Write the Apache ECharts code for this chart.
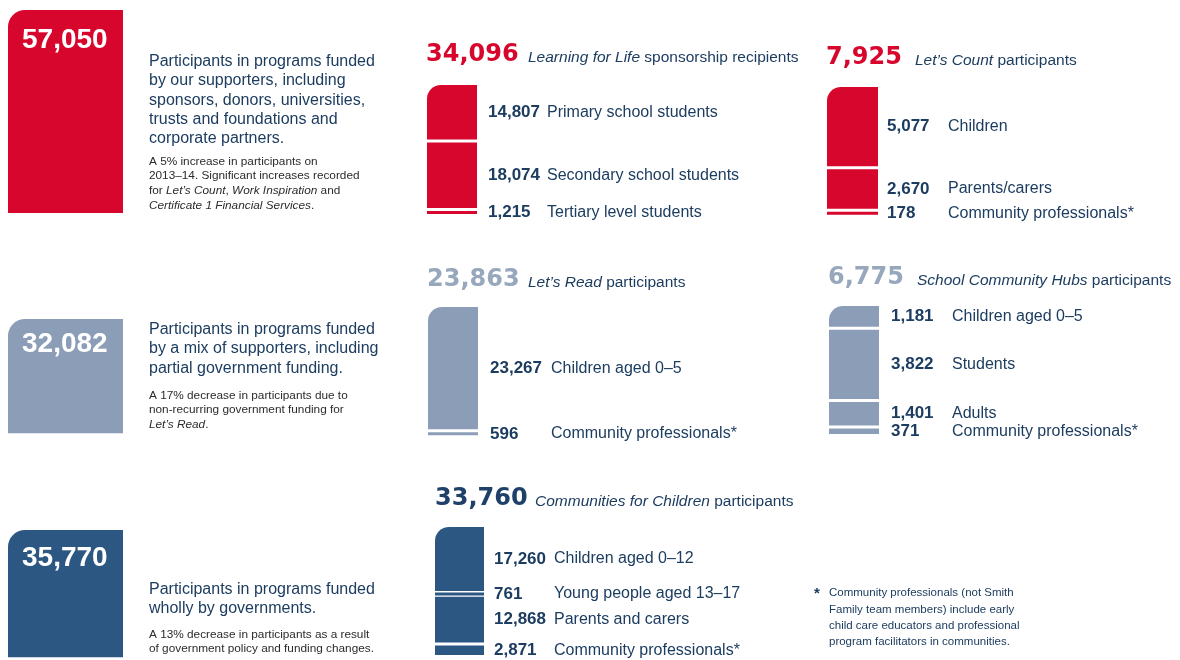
<!DOCTYPE html>
<html><head><meta charset="utf-8">
<script src="https://cdn.jsdelivr.net/npm/echarts@6/dist/echarts.min.js"></script>
<style>html,body{margin:0;padding:0;background:#fff}#c{width:1180px;height:660px}</style>
</head><body><div id="c"></div>
<script>
// ---------- data ----------
const fundingTotals = [57050, 32082, 35770];
const programTotals = [34096, 7925, 23863, 6775, 33760];
const lflCategories = ['Primary school students', 'Secondary school students', 'Tertiary level students'];
const lflValues = [14807, 18074, 1215];
const lcCategories = ['Children', 'Parents/carers', 'Community professionals*'];
const lcValues = [5077, 2670, 178];
const lrCategories = ['Children aged 0–5', 'Community professionals*'];
const lrValues = [23267, 596];
const schCategories = ['Children aged 0–5', 'Students', 'Adults', 'Community professionals*'];
const schValues = [1181, 3822, 1401, 371];
const cfcCategories = ['Children aged 0–12', 'Young people aged 13–17', 'Parents and carers', 'Community professionals*'];
const cfcValues = [17260, 761, 12868, 2871];

// ---------- styles / layout ----------
const RED = '#D7062C', GREY = '#8C9EB7', BLUE = '#2D5783', NAVY = '#1D3D60';
const FONT = 'Liberation Sans';
const fmt = v => v.toLocaleString('en-US');
const FUND_PER_PX = 281;   // shared scale of the three funding boxes (participants per pixel)
const GAP = 3, MINH = 3;    // white gap between stacked segments, min visible thickness

const grids = [], xAxes = [], yAxes = [], series = [];
function addGrid(g, max) {
  const i = grids.length;
  grids.push({ left: g.left, top: g.top, width: g.width, height: g.height });
  xAxes.push({ type: 'category', gridIndex: i, data: ['a'], show: false });
  yAxes.push({ type: 'value', gridIndex: i, inverse: true, min: 0, max: max, show: false });
  return i;
}

// funding boxes
const fundLayout = [
  { top: 10, height: 215, color: RED, labelY: 30 },
  { top: 319, height: 130, color: GREY, labelY: 25 },
  { top: 530, height: 129, color: BLUE, labelY: 28 }
];
fundingTotals.forEach((v, k) => {
  const L = fundLayout[k];
  const i = addGrid({ left: 8, top: L.top, width: 115, height: L.height }, L.height * FUND_PER_PX);
  series.push({
    type: 'bar', xAxisIndex: i, yAxisIndex: i, barWidth: '100%', silent: true,
    data: [v],
    itemStyle: { color: L.color, borderRadius: [17, 0, 0, 0] },
    label: {
      show: true, position: [14, L.labelY], align: 'left', verticalAlign: 'middle',
      formatter: fmt(v), color: '#fff', fontSize: 28, fontWeight: 'bold', fontFamily: FONT
    }
  });
});

// stacked program bars (custom series, positions through the axes)
const stacks = [
  { cats: lflCategories, vals: lflValues, color: RED, left: 427, top: 85, width: 50, height: 129, dist: 11, numW: 59 },
  { cats: lcCategories, vals: lcValues, color: RED, left: 827, top: 87, width: 51, height: 126, dist: 9, numW: 61 },
  { cats: lrCategories, vals: lrValues, color: GREY, left: 428, top: 307, width: 50, height: 127, dist: 12, numW: 61 },
  { cats: schCategories, vals: schValues, color: GREY, left: 829, top: 306, width: 50, height: 128, dist: 12, numW: 61 },
  { cats: cfcCategories, vals: cfcValues, color: BLUE, left: 435, top: 527, width: 49, height: 128, dist: 10, numW: 60 }
];
stacks.forEach(s => {
  const total = s.vals.reduce((a, b) => a + b, 0);
  const i = addGrid(s, total);
  const n = s.vals.length;
  let acc = 0;
  const data = s.vals.map((v, j) => { const d = [0, acc, acc + v, j]; acc += v; return d; });
  series.push({
    type: 'custom', xAxisIndex: i, yAxisIndex: i, silent: true, clip: false,
    data: data, encode: { x: 0, y: [1, 2] },
    renderItem: (params, api) => {
      const j = api.value(3);
      const a = api.coord([0, api.value(1)]);
      const b = api.coord([0, api.value(2)]);
      const w = api.size([1, 0])[0];
      let y0 = a[1] + (j > 0 ? GAP / 2 : 0);
      let y1 = b[1] - (j < n - 1 ? GAP / 2 : 0);
      if (y1 - y0 < MINH) {
        if (j === n - 1) { y1 = y0 + MINH; }
        else { const m = (a[1] + b[1]) / 2; y0 = m - MINH / 2; y1 = m + MINH / 2; }
      }
      return {
        type: 'rect',
        shape: { x: a[0] - w / 2, y: y0, width: w, height: y1 - y0, r: j === 0 ? [14, 0, 0, 0] : 0 },
        style: { fill: s.color },
        textContent: {
          style: {
            text: '{n|' + fmt(s.vals[j]) + '}{t|' + s.cats[j] + '}',
            rich: {
              n: { width: s.numW, fontFamily: FONT, fontWeight: 'bold', fontSize: 17, fill: NAVY },
              t: { fontFamily: FONT, fontSize: 16, fill: NAVY }
            }
          }
        },
        textConfig: { position: 'right', distance: s.dist }
      };
    }
  });
});

// ---------- texts ----------
function txt(x, y, text, o) {
  o = o || {};
  const size = o.size || 16;
  const lh = o.lh || size;
  const base = { fontFamily: o.family || FONT, fontSize: size, fill: o.color || NAVY, lineHeight: lh, fontWeight: o.weight || 'normal' };
  return {
    type: 'text', x: x, y: y, silent: true,
    style: Object.assign({}, base, {
      text: text, align: 'left', verticalAlign: o.va || 'top',
      rich: {
        i: Object.assign({}, base, { fontStyle: 'italic' }),
        r: Object.assign({}, base)
      }
    })
  };
}
const SMALL = '#2b2b2b';
const headNum = (x, y, v, color) => txt(x, y, fmt(v), { size: 24, family: 'DejaVu Sans', weight: 'bold', color: color, va: 'middle' });
const graphics = [
  // funding descriptions
  txt(149, 52, 'Participants in programs funded\nby our supporters, including\nsponsors, donors, universities,\ntrusts and foundations and\ncorporate partners.', { size: 16, lh: 19.3 }),
  txt(149, 154, 'A 5% increase in participants on\n2013–14. Significant increases recorded\nfor {i|Let’s Count}, {i|Work Inspiration} and\n{i|Certificate 1 Financial Services}.', { size: 11.8, lh: 14.8, color: SMALL }),
  txt(149, 320, 'Participants in programs funded\nby a mix of supporters, including\npartial government funding.', { size: 16, lh: 19.3 }),
  txt(149, 388, 'A 17% decrease in participants due to\nnon-recurring government funding for\n{i|Let’s Read}.', { size: 11.8, lh: 14.8, color: SMALL }),
  txt(149, 580, 'Participants in programs funded\nwholly by governments.', { size: 16, lh: 19.3 }),
  txt(149, 627, 'A 13% decrease in participants as a result\nof government policy and funding changes.', { size: 11.8, lh: 14.8, color: SMALL }),
  // program headings
  headNum(426, 55, programTotals[0], RED),
  txt(528, 57.5, '{i|Learning for Life} sponsorship recipients', { size: 15.5, va: 'middle' }),
  headNum(826, 58, programTotals[1], RED),
  txt(915, 60.5, '{i|Let’s Count} participants', { size: 15.5, va: 'middle' }),
  headNum(427, 280, programTotals[2], '#97A7BC'),
  txt(528, 282.5, '{i|Let’s Read} participants', { size: 15.5, va: 'middle' }),
  headNum(828, 278, programTotals[3], '#97A7BC'),
  txt(917, 280.5, '{i|School Community Hubs} participants', { size: 15.5, va: 'middle' }),
  headNum(435, 499, programTotals[4], '#1F4068'),
  txt(535, 501.5, '{i|Communities for Children} participants', { size: 15.5, va: 'middle' }),
  // footnote
  txt(814, 586, '*', { size: 15, lh: 16.3, weight: 'bold' }),
  txt(829, 585, 'Community professionals (not Smith\nFamily team members) include early\nchild care educators and professional\nprogram facilitators in communities.', { size: 11.5, lh: 16.3 })
];

const chart = echarts.init(document.getElementById('c'), null, { renderer: 'canvas' });
chart.setOption({
  animation: false,
  backgroundColor: '#fff',
  grid: grids, xAxis: xAxes, yAxis: yAxes, series: series,
  graphic: graphics
});
</script>
</body></html>
